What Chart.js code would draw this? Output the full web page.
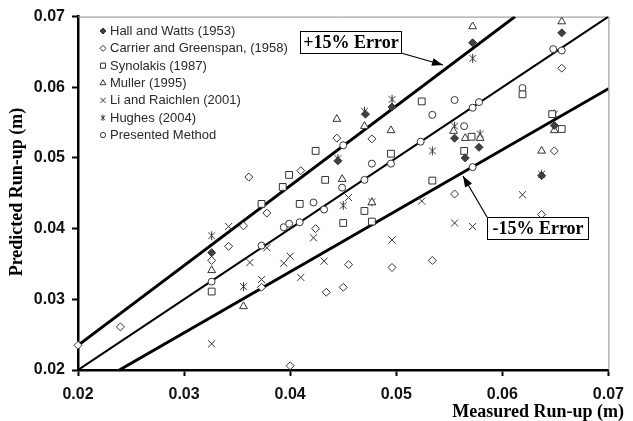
<!DOCTYPE html>
<html>
<head>
<meta charset="utf-8">
<script src="https://cdn.jsdelivr.net/npm/chart.js@4.4.1/dist/chart.umd.min.js"></script>
<style>
    body { margin: 0; background: #fff; }
    #wrap { width: 633px; height: 421px; }
</style>
</head>
<body>
<div id="wrap"><canvas id="myChart1" width="633" height="421"></canvas></div>
<script>
// measured vs predicted run-up (m)
const hallWatts = [[0.0326, 0.0366], [0.0471, 0.0562], [0.0496, 0.0572], [0.0445, 0.0496], [0.0572, 0.0663],
    [0.0656, 0.0677], [0.0555, 0.0528], [0.0565, 0.0500], [0.0578, 0.0515], [0.0649, 0.0546], [0.0637, 0.0475]];
const carrierGreenspan = [[0.0200, 0.0235], [0.0240, 0.0261], [0.0326, 0.0355], [0.0342, 0.0375], [0.0356, 0.0404],
    [0.0378, 0.0422], [0.0400, 0.0206], [0.0373, 0.0317], [0.0361, 0.0473], [0.0410, 0.0482], [0.0424, 0.0400],
    [0.0444, 0.0528], [0.0477, 0.0527], [0.0656, 0.0627], [0.0649, 0.0510], [0.0555, 0.0449], [0.0455, 0.0349],
    [0.0496, 0.0345], [0.0534, 0.0355], [0.0434, 0.0310], [0.0450, 0.0317], [0.0637, 0.0420]];
const synolakis = [[0.0326, 0.0311], [0.0373, 0.0435], [0.0409, 0.0435], [0.0393, 0.0459], [0.0399, 0.0476],
    [0.0424, 0.0510], [0.0433, 0.0469], [0.0495, 0.0506], [0.0524, 0.0580], [0.0534, 0.0468], [0.0619, 0.0590],
    [0.0564, 0.0510], [0.0571, 0.0530], [0.0656, 0.0541], [0.0647, 0.0562], [0.0470, 0.0425], [0.0450, 0.0408],
    [0.0477, 0.0410]];
const muller = [[0.0326, 0.0341], [0.0356, 0.0290], [0.0444, 0.0555], [0.0470, 0.0545], [0.0495, 0.0539],
    [0.0572, 0.0686], [0.0656, 0.0693], [0.0637, 0.0510], [0.0649, 0.0539], [0.0565, 0.0528], [0.0579, 0.0528],
    [0.0449, 0.0470], [0.0554, 0.0538], [0.0477, 0.0437]];
const liRaichlen = [[0.0326, 0.0237], [0.0342, 0.0403], [0.0362, 0.0352], [0.0373, 0.0328], [0.0378, 0.0373],
    [0.0394, 0.0351], [0.0400, 0.0361], [0.0410, 0.0331], [0.0422, 0.0387], [0.0432, 0.0354], [0.0496, 0.0384],
    [0.0524, 0.0439], [0.0555, 0.0408], [0.0572, 0.0403], [0.0455, 0.0444], [0.0619, 0.0448]];
const hughes = [[0.0326, 0.0390], [0.0356, 0.0318], [0.0572, 0.0641], [0.0496, 0.0583], [0.0470, 0.0566],
    [0.0445, 0.0499], [0.0534, 0.0510], [0.0555, 0.0545], [0.0579, 0.0534], [0.0649, 0.0562], [0.0637, 0.0477],
    [0.0450, 0.0433], [0.0477, 0.0438]];
const presented = [[0.0326, 0.0325], [0.0373, 0.0376], [0.0394, 0.0402], [0.0399, 0.0407], [0.0409, 0.0409],
    [0.0422, 0.0437], [0.0432, 0.0427], [0.0450, 0.0518], [0.0477, 0.0492], [0.0495, 0.0492], [0.0523, 0.0523],
    [0.0534, 0.0561], [0.0555, 0.0582], [0.0572, 0.0571], [0.0578, 0.0579], [0.0564, 0.0545], [0.0648, 0.0654],
    [0.0656, 0.0652], [0.0572, 0.0487], [0.0449, 0.0458], [0.0470, 0.0469], [0.0619, 0.0599]];

// reference lines (end points)
const exactLine = [[0.02, 0.02], [0.07, 0.07]];
const plusLine = [[0.02, 0.0235], [0.0612, 0.07]];
const minusLine = [[0.0239, 0.02], [0.07, 0.0598]];

const tickLabels = ['0.02', '0.03', '0.04', '0.05', '0.06', '0.07'];

const toXY = arr => arr.map(p => ({ x: p[0], y: p[1] }));
const ink = '#333333';

// Hughes marker: an x with a vertical stroke through it
function hughesMark(size) {
    const c = document.createElement('canvas');
    c.width = size;
    c.height = size;
    const g = c.getContext('2d');
    const m = size / 2, r = size / 2 - 1;
    g.strokeStyle = ink;
    g.lineWidth = 1;
    g.beginPath();
    g.moveTo(m - r * 0.75, m - r * 0.75); g.lineTo(m + r * 0.75, m + r * 0.75);
    g.moveTo(m + r * 0.75, m - r * 0.75); g.lineTo(m - r * 0.75, m + r * 0.75);
    g.moveTo(m, m - r); g.lineTo(m, m + r);
    g.stroke();
    return c;
}

function markers(label, data, style, radius, fill) {
    return {
        label: label,
        data: toXY(data),
        pointStyle: style,
        pointRadius: radius,
        pointBackgroundColor: fill || '#ffffff',
        pointBorderColor: ink,
        pointBorderWidth: 1,
        showLine: false,
        clip: false,
        order: 0,
        isMarker: true
    };
}

function refLine(data, width) {
    return {
        label: '',
        data: toXY(data),
        showLine: true,
        borderColor: '#000000',
        borderWidth: width,
        pointRadius: 0,
        order: 1,
        isMarker: false
    };
}

const overlay = {
    id: 'overlay',
    beforeDatasetsDraw(chart) {
        const ctx = chart.ctx;
        const a = chart.chartArea;
        ctx.save();
        ctx.strokeStyle = '#8c8c8c';
        ctx.lineWidth = 1;
        ctx.beginPath();
        ctx.moveTo(a.left, a.top + 0.5);
        ctx.lineTo(a.right + 0.5, a.top + 0.5);
        ctx.lineTo(a.right + 0.5, a.bottom);
        ctx.stroke();
        ctx.restore();
    },
    afterDraw(chart) {
        const ctx = chart.ctx;
        ctx.save();

        // legend
        let row = 0;
        chart.data.datasets.forEach(ds => {
            if (!ds.isMarker) return;
            const y = 31 + row * 17.35;
            const small = typeof ds.pointStyle === 'string' ? ds.pointStyle : hughesMark(8);
            ctx.fillStyle = ds.pointBackgroundColor;
            ctx.strokeStyle = ink;
            ctx.lineWidth = 1;
            Chart.helpers.drawPoint(ctx, { pointStyle: small, radius: ds.pointRadius * 0.75, rotation: 0, borderWidth: 1 }, 103, y);
            ctx.fillStyle = '#2a2a2a';
            ctx.font = '13px "Liberation Sans", Arial, sans-serif';
            ctx.textAlign = 'left';
            ctx.textBaseline = 'middle';
            ctx.fillText(ds.label, 110, y + 0.5);
            row++;
        });

        // axis titles
        ctx.fillStyle = '#000';
        ctx.font = 'bold 18px "Liberation Serif", "Times New Roman", serif';
        ctx.textAlign = 'right';
        ctx.textBaseline = 'middle';
        ctx.fillText('Measured Run-up (m)', 624, 412);
        ctx.save();
        ctx.translate(17, 192);
        ctx.rotate(-Math.PI / 2);
        ctx.textAlign = 'center';
        ctx.fillText('Predicted Run-up (m)', 0, 0);
        ctx.restore();

        // callouts
        callout(ctx, '+15% Error', 300, 31, 101, 22, [401, 53], [443, 65]);
        callout(ctx, '-15% Error', 487, 217, 101, 22, [487, 217], [463, 176]);
        ctx.restore();
    }
};

function callout(ctx, text, x, y, w, h, from, to) {
    ctx.strokeStyle = '#000';
    ctx.lineWidth = 1.2;
    ctx.beginPath();
    ctx.moveTo(from[0], from[1]);
    ctx.lineTo(to[0], to[1]);
    ctx.stroke();
    const ang = Math.atan2(to[1] - from[1], to[0] - from[0]);
    ctx.fillStyle = '#000';
    ctx.beginPath();
    ctx.moveTo(to[0], to[1]);
    ctx.lineTo(to[0] - 11 * Math.cos(ang) + 4 * Math.sin(ang), to[1] - 11 * Math.sin(ang) - 4 * Math.cos(ang));
    ctx.lineTo(to[0] - 11 * Math.cos(ang) - 4 * Math.sin(ang), to[1] - 11 * Math.sin(ang) + 4 * Math.cos(ang));
    ctx.closePath();
    ctx.fill();

    ctx.fillStyle = '#fff';
    ctx.fillRect(x, y, w, h);
    ctx.lineWidth = 1;
    ctx.strokeStyle = '#000';
    ctx.strokeRect(x + 0.5, y + 0.5, w, h);
    ctx.fillStyle = '#000';
    ctx.font = 'bold 18px "Liberation Serif", "Times New Roman", serif';
    ctx.textAlign = 'center';
    ctx.textBaseline = 'middle';
    ctx.fillText(text, x + w / 2 + 0.5, y + h / 2 + 1.5);
}

const axisCommon = {
    type: 'linear',
    min: 0.02,
    max: 0.07,
    grid: {
        display: true,
        drawOnChartArea: false,
        drawTicks: true,
        tickLength: 6,
        tickWidth: 2,
        tickColor: '#000'
    },
    border: { display: true, color: '#000', width: 2.5 },
    ticks: {
        stepSize: 0.01,
        color: '#111',
        font: { family: '"Liberation Sans", Arial, sans-serif', size: 16, weight: 'bold' },
        callback: (v) => tickLabels.find(t => Math.abs(parseFloat(t) - v) < 1e-6) || ''
    }
};

const ctx = document.getElementById('myChart1').getContext('2d');
const chart1 = new Chart(ctx, {
    type: 'scatter',
    data: {
        datasets: [
            markers('Hall and Watts (1953)', hallWatts, 'rectRot', 4, '#404040'),
            markers('Carrier and Greenspan, (1958)', carrierGreenspan, 'rectRot', 4),
            markers('Synolakis (1987)', synolakis, 'rect', 4.8),
            markers('Muller (1995)', muller, 'triangle', 4.5),
            markers('Li and Raichlen (2001)', liRaichlen, 'crossRot', 5),
            markers('Hughes (2004)', hughes, hughesMark(11), 5),
            markers('Presented Method', presented, 'circle', 3.5),
            refLine(plusLine, 3),
            refLine(exactLine, 2),
            refLine(minusLine, 3)
        ]
    },
    options: {
        responsive: false,
        animation: false,
        layout: { padding: { top: 15, right: 18, left: 0, bottom: 0 } },
        plugins: {
            legend: { display: false },
            tooltip: { enabled: false }
        },
        scales: {
            x: Object.assign({}, axisCommon, {
                position: 'bottom',
                ticks: Object.assign({}, axisCommon.ticks, { padding: 9, maxRotation: 0 }),
                afterFit: (scale) => { scale.height = 51; }
            }),
            y: Object.assign({}, axisCommon, {
                position: 'left',
                ticks: Object.assign({}, axisCommon.ticks, { padding: 7 }),
                afterFit: (scale) => { scale.width = 78; }
            })
        }
    },
    plugins: [overlay]
});
</script>
</body>
</html>
